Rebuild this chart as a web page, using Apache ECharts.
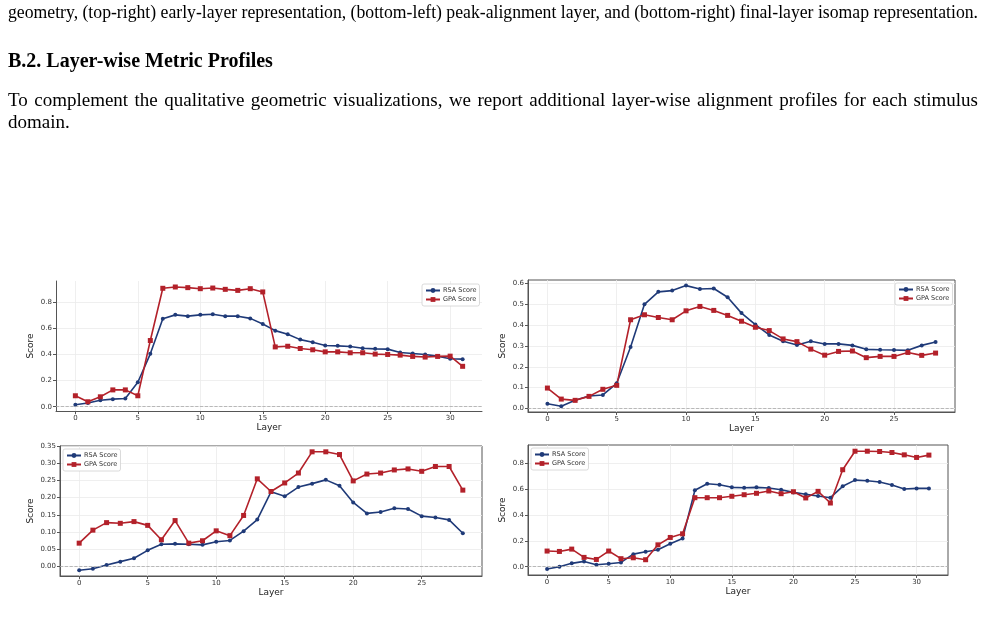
<!DOCTYPE html>
<html>
<head>
<meta charset="utf-8">
<script src="https://cdn.jsdelivr.net/npm/echarts@6/dist/echarts.min.js"></script>
<style>
body { margin: 0; background: #fff; }
#page { position: relative; width: 985px; height: 629px; overflow: hidden; }
#chart { position: absolute; left: 0; top: 0; width: 985px; height: 629px; }
.txt { position: absolute; left: 8px; width: 970px; font-family: "Liberation Serif", "Times New Roman", serif;
  font-size: 19px; line-height: 22px; color: #000; white-space: nowrap; text-align: justify; text-align-last: justify; }
.head { font-weight: bold; font-size: 20px; text-align: left; text-align-last: left; }
.plain { text-align: left; text-align-last: left; }
.fit { width: auto; text-align: left; text-align-last: left; transform-origin: 0 0; }
</style>
</head>
<body>
<div id="page">
  <div id="chart"></div>
  <div class="txt fit" style="top:1px">geometry, (top-right) early-layer representation, (bottom-left) peak-alignment layer, and (bottom-right) final-layer isomap representation.</div>
  <div class="txt head" style="top:49px">B.2. Layer-wise Metric Profiles</div>
  <div class="txt" style="top:89px">To complement the qualitative geometric visualizations, we report additional layer-wise alignment profiles for each stimulus</div>
  <div class="txt plain" style="top:111px">domain.</div>
</div>
<script>
// layers per panel
var layers32 = [0,1,2,3,4,5,6,7,8,9,10,11,12,13,14,15,16,17,18,19,20,21,22,23,24,25,26,27,28,29,30,31];
var layers29 = [0,1,2,3,4,5,6,7,8,9,10,11,12,13,14,15,16,17,18,19,20,21,22,23,24,25,26,27,28];

// top-left
var rsaTL = [0.015,0.028,0.05,0.058,0.063,0.188,0.406,0.675,0.705,0.695,0.705,0.71,0.695,0.695,0.678,0.635,
             0.584,0.556,0.515,0.495,0.47,0.467,0.462,0.449,0.444,0.442,0.416,0.409,0.401,0.388,0.368,0.365];
var gpaTL = [0.084,0.038,0.076,0.129,0.129,0.084,0.508,0.909,0.919,0.914,0.906,0.911,0.901,0.893,0.906,0.881,
             0.459,0.464,0.447,0.437,0.421,0.421,0.414,0.414,0.404,0.401,0.396,0.386,0.381,0.386,0.388,0.31];
// top-right
var rsaTR = [0.023,0.011,0.039,0.06,0.065,0.121,0.295,0.5,0.56,0.566,0.59,0.574,0.576,0.534,0.458,0.403,
             0.353,0.323,0.305,0.323,0.31,0.31,0.303,0.284,0.282,0.281,0.279,0.303,0.319];
var gpaTR = [0.098,0.045,0.039,0.058,0.092,0.111,0.426,0.45,0.437,0.426,0.469,0.49,0.471,0.447,0.419,0.39,
             0.374,0.334,0.321,0.285,0.256,0.274,0.276,0.244,0.25,0.25,0.269,0.255,0.266];
// bottom-left
var rsaBL = [-0.012,-0.008,0.003,0.013,0.023,0.046,0.064,0.065,0.064,0.062,0.071,0.075,0.102,0.136,0.217,0.204,
             0.231,0.241,0.252,0.235,0.186,0.154,0.158,0.169,0.167,0.146,0.142,0.135,0.096];
var gpaBL = [0.067,0.105,0.127,0.125,0.13,0.119,0.077,0.133,0.067,0.074,0.103,0.089,0.148,0.255,0.218,0.243,
             0.272,0.334,0.334,0.326,0.249,0.269,0.272,0.281,0.284,0.277,0.291,0.291,0.222];
// bottom-right
var rsaBR = [-0.018,0.0,0.026,0.041,0.015,0.023,0.033,0.097,0.115,0.131,0.177,0.218,0.59,0.641,0.633,0.613,
             0.61,0.613,0.608,0.595,0.574,0.559,0.546,0.533,0.621,0.669,0.664,0.654,0.631,0.6,0.605,0.605];
var gpaBR = [0.121,0.118,0.136,0.072,0.056,0.121,0.062,0.069,0.054,0.169,0.226,0.254,0.533,0.533,0.533,0.544,
             0.556,0.567,0.585,0.564,0.579,0.531,0.582,0.492,0.749,0.892,0.892,0.89,0.882,0.864,0.844,0.862];

var xTicks30 = [0,5,10,15,20,25,30];
var xTicks25 = [0,5,10,15,20,25];
var yTicksA = [0,0.2,0.4,0.6,0.8];
var yTicksB = [0,0.1,0.2,0.3,0.4,0.5,0.6];
var yTicksC = [0,0.05,0.1,0.15,0.2,0.25,0.3,0.35];

var BLUE = '#1f3a78';
var RED = '#b3212a';

// squeeze the long caption line into the text column
document.querySelectorAll('.fit').forEach(function (el) {
  var w = el.getBoundingClientRect().width;
  if (w > 970) el.style.transform = 'scaleX(' + (970 / w) + ')';
});

var panels = [
  {layers: layers32, rsa: rsaTL, gpa: gpaTL, box: false, grid: {left: 56, top: 281, width: 426, height: 130},
   x: [-1.55, 32.55], xt: xTicks30, y: [-0.033, 0.965], yt: yTicksA, dec: 1, nameGap: 21, legend: {left: 422, top: 284}},
  {layers: layers29, rsa: rsaTR, gpa: gpaTR, box: true, grid: {left: 528, top: 280, width: 427, height: 132},
   x: [-1.4, 29.4], xt: xTicks25, y: [-0.017, 0.617], yt: yTicksB, dec: 1, nameGap: 21, legend: {left: 895, top: 283}},
  {layers: layers29, rsa: rsaBL, gpa: gpaBL, box: true, grid: {left: 60, top: 446, width: 422, height: 130},
   x: [-1.4, 29.4], xt: xTicks25, y: [-0.029, 0.351], yt: yTicksC, dec: 2, nameGap: 25, legend: {left: 63, top: 449}},
  {layers: layers32, rsa: rsaBR, gpa: gpaBR, box: true, grid: {left: 528, top: 445, width: 420, height: 130},
   x: [-1.55, 32.55], xt: xTicks30, y: [-0.064, 0.94], yt: yTicksA, dec: 1, nameGap: 21, legend: {left: 531, top: 448}}
];

function pairs(xs, ys) {
  return xs.map(function (x, i) { return [x, ys[i]]; });
}

var grids = [], xAxes = [], yAxes = [], legends = [], series = [];
var axisFont = 'DejaVu Sans';

panels.forEach(function (p, i) {
  grids.push({
    left: p.grid.left, top: p.grid.top, width: p.grid.width, height: p.grid.height,
    show: p.box, borderColor: '#555', borderWidth: 1, backgroundColor: 'transparent'
  });
  xAxes.push({
    type: 'value', gridIndex: i, min: p.x[0], max: p.x[1],
    name: 'Layer', nameLocation: 'middle', nameGap: 12,
    nameTextStyle: {fontSize: 9, color: '#222', fontFamily: axisFont},
    axisLine: {show: true, onZero: false, lineStyle: {color: '#555', width: 1}},
    axisTick: {show: true, length: 3, customValues: p.xt, lineStyle: {color: '#555'}},
    axisLabel: {customValues: p.xt, fontSize: 7, color: '#333', margin: 4, fontFamily: axisFont},
    splitLine: {show: true, lineStyle: {color: '#ebebeb', width: 0.8}}
  });
  yAxes.push({
    type: 'value', gridIndex: i, min: p.y[0], max: p.y[1],
    name: 'Score', nameLocation: 'middle', nameGap: p.nameGap, nameRotate: 90,
    nameTextStyle: {fontSize: 9, color: '#222', fontFamily: axisFont},
    axisLine: {show: true, onZero: false, lineStyle: {color: '#555', width: 1}},
    axisTick: {show: true, length: 3, customValues: p.yt, lineStyle: {color: '#555'}},
    axisLabel: {customValues: p.yt, fontSize: 7, color: '#333', margin: 4, fontFamily: axisFont,
      formatter: function (v) { return v.toFixed(p.dec); }},
    splitLine: {show: true, lineStyle: {color: '#ebebeb', width: 0.8}}
  });
  legends.push({
    left: p.legend.left, top: p.legend.top, orient: 'vertical',
    data: ['RSA Score', 'GPA Score'],
    itemWidth: 14, itemHeight: 6, itemGap: 2, padding: [3, 3],
    borderColor: '#d0d0d0', borderWidth: 0.8, borderRadius: 2, backgroundColor: '#fff',
    textStyle: {fontSize: 6.5, color: '#333', fontFamily: axisFont, padding: [0, 0, 0, -2]}
  });
  series.push({
    name: 'RSA Score', type: 'line', xAxisIndex: i, yAxisIndex: i,
    data: pairs(p.layers, p.rsa), color: BLUE,
    symbol: 'circle', symbolSize: 4, lineStyle: {width: 1.6}, z: 3,
    markLine: {
      silent: true, symbol: ['none', 'none'], label: {show: false},
      lineStyle: {type: 'dashed', color: '#aaa', width: 0.8},
      data: [{yAxis: 0}]
    }
  });
  series.push({
    name: 'GPA Score', type: 'line', xAxisIndex: i, yAxisIndex: i,
    data: pairs(p.layers, p.gpa), color: RED,
    symbol: 'rect', symbolSize: 5, lineStyle: {width: 1.6}, z: 3
  });
});

var chart = echarts.init(document.getElementById('chart'), null, {renderer: 'canvas'});
chart.setOption({
  animation: false,
  backgroundColor: '#fff',
  grid: grids,
  xAxis: xAxes,
  yAxis: yAxes,
  legend: legends,
  series: series
});
</script>
</body>
</html>
